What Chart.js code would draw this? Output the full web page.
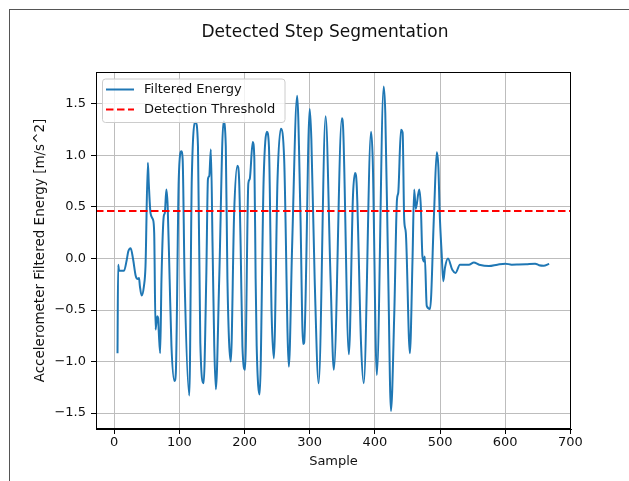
<!DOCTYPE html>
<html>
<head>
<meta charset="utf-8">
<title>Detected Step Segmentation</title>
<script src="https://cdn.jsdelivr.net/npm/chart.js@4.4.0/dist/chart.umd.min.js"></script>
<style>
  html, body { margin: 0; padding: 0; background: #fff; }
  #wrap { position: relative; width: 629px; height: 481px; overflow: hidden; }
  #frame {
    position: absolute; left: 9px; top: 9px; width: 700px; height: 600px;
    border-left: 1px solid #555; border-top: 1px solid #555; pointer-events: none;
  }
  canvas { position: absolute; left: 0; top: 0; }
</style>
</head>
<body>
<div id="wrap">
  <canvas id="chart" width="629" height="481"></canvas>
  <div id="frame"></div>
</div>
<script>
// ── Data ──────────────────────────────────────────────────
const titleText  = 'Detected Step Segmentation';
const xLabel     = 'Sample';
const yLabel     = 'Accelerometer Filtered Energy [m/s^2]';
const energyName = 'Filtered Energy';
const threshName = 'Detection Threshold';

const sampleIdx = [
  5, 6, 7.5, 15, 19, 21.6, 25.2, 29, 33, 36.4, 38, 39.4, 42, 45.5, 48, 51.6, 53, 55.7, 59.3, 61.3,
  63.4, 65.9, 67.4, 68.4, 70.5, 72.5, 76, 77.6, 80, 82, 85, 87.8, 92.4, 94.5, 99, 103, 105, 108,
  115.2, 119, 124.9, 128.5, 132.1, 137.2, 141.2, 143.8, 145.8, 148.3, 150.9, 153.5, 156, 161.1,
  167.7, 171.2, 173.7, 178.9, 184, 189, 191.6, 194, 196.7, 200.8, 205.8, 207.9, 212.5, 215, 217,
  218.6, 223.2, 229.3, 234.3, 237.4, 241.5, 245, 250.6, 255.7, 260.8, 268, 273, 280.7, 285.7,
  289.8, 291.4, 300, 302.5, 307.6, 313.7, 324.4, 332, 337, 349.3, 351.4, 360.1, 366.4, 369.7,
  372.2, 378.9, 382.9, 394.1, 396.7, 403, 413.5, 416, 420.6, 424.7, 429.8, 433.9, 435.9, 440,
  442.6, 445, 447.5, 453.7, 457.8, 460.3, 462.8, 468, 470.5, 473, 475.6, 476.6, 479.6, 484.7,
  490.8, 495, 497.5, 499.5, 502.5, 505, 507.6, 512.2, 518.8, 523.9, 530.5, 544.3, 551.9, 560,
  575, 588, 600.2, 610, 620.6, 632, 646, 652, 659, 667.5
];
const energyVals = [
  -0.92, -0.06, -0.12, -0.12, -0.02, 0.07, 0.10, -0.01, -0.17, -0.20, -0.19, -0.27, -0.36, -0.27, -0.07, 0.93, 0.73, 0.44, 0.38, 0.25,
  -0.69, -0.56, -0.58, -0.72, -0.92, -0.20, 0.41, 0.44, 0.67, 0.51, -0.20, -0.85, -1.19, -1.11, 0.77, 1.04, 0.96, -0.20,
  -1.33, 0.77, 1.32, 1.09, -0.82, -1.21, -0.20, 0.77, 0.80, 1.06, 0.12, -0.85, -1.27, -0.20,
  1.33, 1.09, -0.20, -1.00, 0.44, 0.90, 0.77, 0.12, -0.85, -1.08, 0.73, 0.77, 1.13, 0.97, -0.20,
  -0.85, -1.32, 0.77, 1.23, 1.09, -0.53, -0.97, 0.77, 1.26, 0.96, -1.05, 0.12, 1.58, 0.44,
  -0.83, -0.82, 1.45, 1.16, -0.20, -1.21, 1.38, -0.20, -1.08, 1.36, 1.25, -0.93, 0.61, 0.83,
  0.70, -0.85, -1.21, 1.23, 0.96, -1.13, 1.67, 1.41, -0.20, -1.48, -0.53, 0.57, 0.64, 1.25,
  1.22, 0.38, 0.25, -0.92, 0.00, 0.67, 0.48, 0.67, 0.51, 0.02, -0.03, 0.02, -0.46, -0.49,
  0.44, 1.03, 0.88, 0.44, 0.05, -0.22, -0.09, 0.00, -0.11, -0.14, -0.06, -0.06, -0.04, -0.06,
  -0.074, -0.06, -0.05, -0.06, -0.058, -0.055, -0.05, -0.065, -0.07, -0.052
];
const thresholdVal = 0.46;

const xTicks = [0, 100, 200, 300, 400, 500, 600, 700];
const yTicks = [-1.5, -1.0, -0.5, 0.0, 0.5, 1.0, 1.5];
const xMin = -28, xMax = 701;
const yMin = -1.655, yMax = 1.81;

// ── Styling ───────────────────────────────────────────────
const FONT = 'DejaVu Sans';
const BLUE = '#1f77b4';
const RED  = '#ff0000';
const GRID = '#bdbdbd';
const TEXT = '#111111';

const energyPoints = sampleIdx.map((x, i) => ({ x, y: energyVals[i] }));
const threshPoints = [{ x: xMin, y: thresholdVal }, { x: xMax, y: thresholdVal }];

// matplotlib style minus sign
const fmtY = v => (v < 0 ? '\u2212' : '') + Math.abs(v).toFixed(1);

// title + full axes box + in-axes legend
const decorPlugin = {
  id: 'decor',
  afterDatasetsDraw(chart) {
    const { ctx, chartArea: a } = chart;
    ctx.save();
    // top/right spines
    ctx.strokeStyle = '#000';
    ctx.lineWidth = 1;
    ctx.strokeRect(Math.round(a.left) + 0.5, Math.round(a.top) + 0.5,
                   Math.round(a.right - a.left) - 1, Math.round(a.bottom - a.top) - 1);

    // legend box
    const lx = 102.5, ly = 79, lw = 182.5, lh = 43.5, r = 3;
    ctx.beginPath();
    ctx.roundRect(lx, ly, lw, lh, r);
    ctx.fillStyle = 'rgba(255,255,255,0.8)';
    ctx.fill();
    ctx.strokeStyle = '#cccccc';
    ctx.stroke();

    const rows = [
      { label: chart.data.datasets[0].label, color: BLUE, dash: [] , y: 89.5 },
      { label: chart.data.datasets[1].label, color: RED,  dash: [7.5, 3.5], y: 109.5 },
    ];
    ctx.font = `13px "${FONT}"`;
    ctx.textBaseline = 'middle';
    ctx.textAlign = 'left';
    rows.forEach(row => {
      ctx.beginPath();
      ctx.setLineDash(row.dash);
      ctx.strokeStyle = row.color;
      ctx.lineWidth = 2;
      ctx.moveTo(106, row.y);
      ctx.lineTo(134, row.y);
      ctx.stroke();
      ctx.setLineDash([]);
      ctx.fillStyle = TEXT;
      ctx.fillText(row.label, 144, row.y);
    });

    // figure title (centred on the figure, like suptitle)
    ctx.font = `17px "${FONT}"`;
    ctx.textAlign = 'center';
    ctx.fillStyle = TEXT;
    ctx.fillText(titleText, 325, 33);
    ctx.restore();
  }
};

new Chart(document.getElementById('chart'), {
  type: 'line',
  data: {
    datasets: [
      {
        label: energyName,
        data: energyPoints,
        borderColor: BLUE,
        borderWidth: 2,
        pointRadius: 0,
        cubicInterpolationMode: 'monotone',
        fill: false,
        order: 2,
      },
      {
        label: threshName,
        data: threshPoints,
        borderColor: RED,
        borderWidth: 2,
        borderDash: [7.5, 3.5],
        pointRadius: 0,
        fill: false,
        order: 1,
      },
    ],
  },
  options: {
    responsive: false,
    animation: false,
    devicePixelRatio: 1,
    layout: { padding: { left: 32, top: 72, right: 58, bottom: 0 } },
    plugins: {
      legend: { display: false },
      title: { display: false },
      tooltip: { enabled: false },
    },
    scales: {
      x: {
        type: 'linear',
        min: xMin,
        max: xMax,
        afterBuildTicks: s => { s.ticks = xTicks.map(v => ({ value: v })); },
        afterFit: s => { s.height = 52; },
        grid: { color: GRID, lineWidth: 1, tickColor: '#000', tickLength: 5, drawTicks: true },
        border: { display: true, color: '#000', width: 1 },
        ticks: { color: TEXT, font: { family: FONT, size: 13 }, padding: 1, maxRotation: 0,
                 callback: v => String(v) },
        title: { display: true, text: xLabel, color: TEXT, font: { family: FONT, size: 13 },
                 padding: { top: 0, bottom: 12 } },
      },
      y: {
        type: 'linear',
        min: yMin,
        max: yMax,
        afterBuildTicks: s => { s.ticks = yTicks.map(v => ({ value: v })); },
        afterFit: s => { s.width = 64; },
        grid: { color: GRID, lineWidth: 1, tickColor: '#000', tickLength: 5, drawTicks: true },
        border: { display: true, color: '#000', width: 1 },
        ticks: { color: TEXT, font: { family: FONT, size: 13 }, padding: 5, callback: fmtY },
        title: { display: true, text: yLabel, color: TEXT, font: { family: FONT, size: 13.5 },
                 padding: { top: 0, bottom: 0 } },
      },
    },
  },
  plugins: [decorPlugin],
});
</script>
</body>
</html>
